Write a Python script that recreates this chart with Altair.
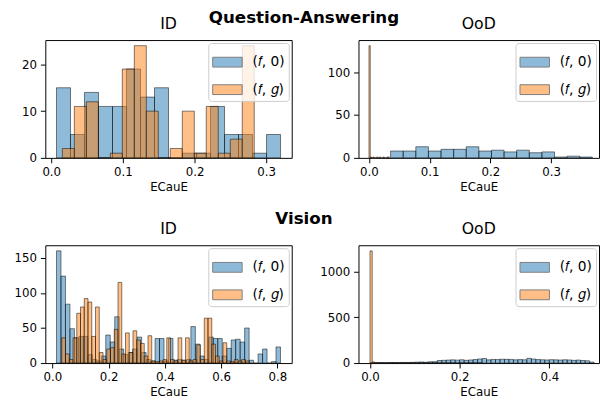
import altair as alt
import numpy as np
import pandas as pd

BLUE = "#1f77b4"
ORANGE = "#ff7f0e"
LAB0 = "(𝑓, 0)"
LABG = "(𝑓, 𝑔)"
FONT = "DejaVu Sans"

# ---- Question-Answering, ID ----
qa_id_f0_range = (0.0073, 0.3200)
qa_id_f0_counts = [15, 5, 14, 11, 11, 19, 13, 15, 0, 1, 1, 11, 5, 5, 1, 5]
qa_id_fg_range = (0.0155, 0.2833)
qa_id_fg_counts = [2, 11, 12, 0, 1, 19, 24, 10, 0, 2, 10, 1, 11, 1, 4, 24]

# ---- Question-Answering, OoD ----
qa_ood_f0_range = (0.0356, 0.368)
qa_ood_f0_counts = [8, 8, 13, 8, 10, 10, 13, 8, 9, 7, 9, 6, 7, 1, 2, 1]
qa_ood_fg_range = (0.0, 0.0336)
qa_ood_fg_counts = [131, 1, 0, 1, 0, 0, 1, 0, 1, 0, 0, 1, 0, 0, 1, 1]

# ---- Vision, ID ----
vi_id_f0_range = (0.0143, 0.811)
vi_id_f0_counts = [160, 124, 84, 49, 36, 38, 38, 12, 5, 3,
                   10, 40, 30, 66, 20, 12, 15, 20, 37, 15,
                   5, 3, 35, 35, 3, 35, 4, 5, 4, 5,
                   52, 27, 10, 5, 37, 35, 35, 10, 21, 33,
                   34, 30, 50, 4, 0, 13, 20, 0, 2, 23]
vi_id_fg_range = (0.033, 0.70)
vi_id_fg_counts = [36, 13, 5, 36, 71, 80, 92, 87, 38, 80,
                   15, 5, 20, 22, 48, 115, 13, 43, 15, 46,
                   33, 28, 10, 39, 3, 2, 3, 5, 36, 5,
                   3, 36, 4, 36, 3, 5, 26, 5, 64, 64,
                   27, 10, 3, 29, 3, 2, 5, 3, 5, 3]

# ---- Vision, OoD ----
vi_ood_f0_range = (0.0, 0.5)
vi_ood_f0_counts = [3, 2, 4, 3, 5, 6, 5, 7, 6, 8,
                    10, 12, 9, 14, 15, 28, 30, 33, 35, 32,
                    36, 30, 34, 38, 45, 50, 35, 40, 38, 42,
                    41, 40, 35, 38, 36, 52, 44, 38, 36, 34,
                    37, 35, 33, 36, 34, 30, 33, 28, 25, 10]
vi_ood_fg_range = (0.0, 0.25)
vi_ood_fg_counts = [1228, 12, 5, 3, 2, 2, 1, 1, 0, 1,
                    0, 1, 0, 0, 1, 0, 0, 1, 0, 0,
                    1, 0, 0, 0, 1, 0, 0, 0, 0, 1,
                    0, 0, 0, 0, 0, 1, 0, 0, 0, 0,
                    0, 0, 1, 0, 0, 0, 0, 0, 0, 1]


def hist_frame(f0_range, f0_counts, fg_range, fg_counts):
    rows = []
    for lab, rng, cnts in [(LAB0, f0_range, f0_counts), (LABG, fg_range, fg_counts)]:
        edges = np.linspace(rng[0], rng[1], len(cnts) + 1)
        for i, c in enumerate(cnts):
            rows.append({"lo": float(edges[i]), "hi": float(edges[i + 1]),
                         "count": c, "base": 0, "series": lab, "k": 0 if lab == LAB0 else 1})
    return pd.DataFrame(rows)


def panel(df, title, xdom, ydom, xticks, yticks, w, h, yext):
    return alt.Chart(df).mark_rect(
        fillOpacity=0.5, stroke="black", strokeOpacity=0.5, strokeWidth=1, clip=True
    ).encode(
        x=alt.X("lo:Q", scale=alt.Scale(domain=xdom, nice=False, zero=False),
                axis=alt.Axis(values=xticks, format=".1f", title="ECauE")),
        x2="hi",
        y=alt.Y("count:Q", scale=alt.Scale(domain=ydom, nice=False),
                axis=alt.Axis(values=yticks, format="d", title=None,
                              minExtent=yext, maxExtent=yext)),
        y2="base",
        color=alt.Color("series:N",
                        scale=alt.Scale(domain=[LAB0, LABG], range=[BLUE, ORANGE]),
                        legend=alt.Legend(title=None, orient="top-right", offset=3, padding=4,
                                          fillColor="rgba(255,255,255,0.8)", strokeColor="#cccccc",
                                          cornerRadius=3, symbolType="M-1,-0.333H1V0.333H-1Z",
                                          symbolSize=900, symbolOpacity=0.5,
                                          symbolStrokeColor="black", symbolStrokeWidth=1,
                                          labelFontSize=14, labelFont=FONT, labelOffset=10,
                                          rowPadding=5)),
        order=alt.Order("k:Q"),
    ).properties(width=w, height=h,
                 title=alt.TitleParams(title, fontSize=16, fontWeight="normal", font=FONT, offset=8))


tl = panel(hist_frame(qa_id_f0_range, qa_id_f0_counts, qa_id_fg_range, qa_id_fg_counts),
           "ID", [-0.0083, 0.3356], [0, 25.2], [0.0, 0.1, 0.2, 0.3], [0, 10, 20], 251, 120, 37)
tr = panel(hist_frame(qa_ood_f0_range, qa_ood_f0_counts, qa_ood_fg_range, qa_ood_fg_counts),
           "OoD", [-0.0173, 0.379], [0, 137.6], [0.0, 0.1, 0.2, 0.3], [0, 50, 100], 245, 120, 40)
bl = panel(hist_frame(vi_id_f0_range, vi_id_f0_counts, vi_id_fg_range, vi_id_fg_counts),
           "ID", [-0.0255, 0.851], [0, 168], [0.0, 0.2, 0.4, 0.6, 0.8], [0, 50, 100, 150], 251, 120, 37)
br = panel(hist_frame(vi_ood_f0_range, vi_ood_f0_counts, vi_ood_fg_range, vi_ood_fg_counts),
           "OoD", [-0.0257, 0.511], [0, 1290], [0.0, 0.2, 0.4], [0, 500, 1000], 245, 120, 40)

row1 = alt.hconcat(tl, tr, spacing=26).resolve_scale(color="independent").resolve_legend(color="independent").properties(
    title=alt.TitleParams("Question-Answering", fontSize=17, fontWeight="bold", font=FONT,
                          anchor="middle", offset=-11))
row2 = alt.hconcat(bl, br, spacing=26).resolve_scale(color="independent").resolve_legend(color="independent").properties(
    title=alt.TitleParams("Vision", fontSize=17, fontWeight="bold", font=FONT,
                          anchor="middle", offset=-7))

chart = alt.vconcat(row1, row2, spacing=17).resolve_scale(color="independent").resolve_legend(
    color="independent"
).properties(
    padding={"left": 0, "top": -3, "right": 0, "bottom": 0}
).configure_view(
    stroke="black", strokeWidth=1
).configure_axis(
    domain=False, grid=False, tickColor="black", tickSize=5, labelColor="black",
    labelFont=FONT, labelFontSize=12, titleFont=FONT, titleFontSize=12,
    titleFontWeight="normal", titleColor="black", labelPadding=4
).configure_axisX(
    titlePadding=4
).configure_title(color="black")

chart.save("out.html", embed_options={"renderer": "svg", "actions": False})
